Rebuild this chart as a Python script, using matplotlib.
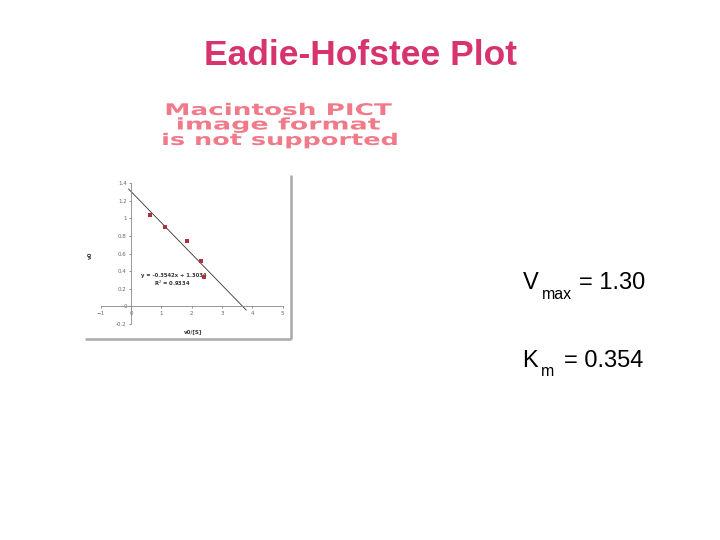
import numpy as np
import matplotlib
matplotlib.use("Agg")
import matplotlib.pyplot as plt
from matplotlib.textpath import TextPath
from matplotlib.patches import PathPatch
from matplotlib.font_manager import FontProperties
from matplotlib.transforms import Affine2D

# data
ratio = [0.635, 1.13, 1.86, 2.31, 2.42]      # v0/[S]
rate = [1.04, 0.90, 0.74, 0.52, 0.33]        # v0
slope = -0.3542
intercept = 1.3034
fitRange = [-0.08, 3.8]
xTicks = [-1, 0, 1, 2, 3, 4, 5]
yTicks = [-0.2, 0, 0.2, 0.4, 0.6, 0.8, 1, 1.2, 1.4]
yTickLabels = ["-0.2", "0", "0.2", "0.4", "0.6", "0.8", "1", "1.2", "1.4"]

W, H = 720, 540
fig = plt.figure(figsize=(7.2, 5.4), dpi=100)

# overlay in pixel coordinates (y measured from top)
bg = fig.add_axes([0, 0, 1, 1])
bg.set_xlim(0, W)
bg.set_ylim(0, H)
bg.axis("off")

def py(y):
    return H - y

# slide title
bg.text(361, py(65), "Eadie-Hofstee Plot", ha="center", va="baseline",
        fontsize=25.5, fontweight="bold", color="#d6336f", family="Liberation Sans")

# "image not supported" placeholder, stretched wide
pictLines = [("Macintosh PICT", 166.7, 391.7, 115),
             ("image format", 178, 380, 129.5),
             ("is not supported", 163.3, 396.7, 145)]
fp = FontProperties(family="DejaVu Sans", weight="bold")
for txt, x0, x1, base in pictLines:
    tp = TextPath((0, 0), txt, size=1, prop=fp)
    ext = tp.get_extents()
    sx = (x1 - x0) / ext.width
    sy = 11.7 / 0.729
    tr = Affine2D().translate(-ext.x0, 0).scale(sx, sy).translate(x0, py(base))
    bg.add_patch(PathPatch(tr.transform_path(tp), facecolor="#f07a8a", edgecolor="none"))

# frame shadow of the pasted chart
bg.plot([85, 290.5], [py(338.5), py(338.5)], color="#a8a8a8", lw=1.8, solid_capstyle="butt")
bg.plot([290.5, 290.5], [py(175), py(338.5)], color="#a8a8a8", lw=1.8, solid_capstyle="butt")

# Vmax / Km annotations
big = dict(fontsize=17, family="Liberation Sans", va="baseline", ha="left")
small = dict(fontsize=11.5, family="Liberation Sans", va="baseline", ha="left")
bg.text(523, py(288.7), "V", **big)
bg.text(541.5, py(298.7), "max", **small)
bg.text(579, py(288.7), "= 1.30", **big)
bg.text(522.5, py(366.7), "K", **big)
bg.text(541, py(376), "m", **small)
bg.text(564.5, py(366.7), "= 0.354", **big)

# the small chart
ax = fig.add_axes([100.7 / W, 1 - 324 / H, 182 / W, 141 / H])
ax.set_xlim(-1, 5)
ax.set_ylim(-0.2, 1.4)
ax.patch.set_alpha(0)
ax.spines["top"].set_visible(False)
ax.spines["right"].set_visible(False)
ax.spines["left"].set_position(("data", 0))
ax.spines["bottom"].set_position(("data", 0))
for s in ("left", "bottom"):
    ax.spines[s].set_color("#888888")
    ax.spines[s].set_linewidth(0.6)
ax.set_xticks(xTicks)
ax.set_yticks(yTicks)
ax.set_yticklabels(yTickLabels)
ax.tick_params(labelsize=4, colors="#666666", length=1.5, width=0.5, pad=1.5)

fx = np.array(fitRange)
ax.plot(fx, slope * fx + intercept, color="#333333", lw=0.6)
ax.plot(ratio, rate, "s", color="#b03040", markersize=2.6, markeredgewidth=0)

bg.text(141, py(276), "y = %.4fx + %.4f" % (slope, intercept), fontsize=3.8,
        va="center", ha="left", color="#333333", fontweight="bold")
bg.text(154, py(283.3), "R$^2$ = 0.9334", fontsize=3.8, va="center", ha="left",
        color="#333333", fontweight="bold")
bg.text(90, py(255), "v0", fontsize=4, rotation=90, ha="center", va="center",
        color="#333333", fontweight="bold")
bg.text(193, py(332), "v0/[S]", fontsize=4, ha="center", va="center",
        color="#333333", fontweight="bold")

fig.savefig("out.png", dpi=100)
